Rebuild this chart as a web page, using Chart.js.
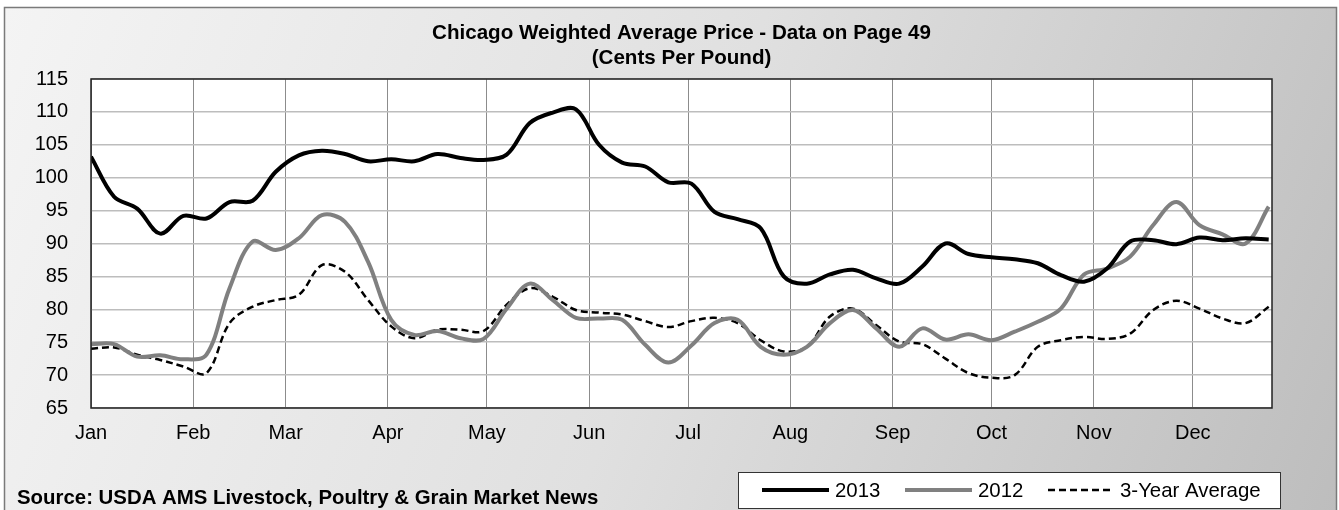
<!DOCTYPE html>
<html>
<head>
<meta charset="utf-8">
<script src="https://cdn.jsdelivr.net/npm/chart.js@4.4.1/dist/chart.umd.min.js"></script>
<style>
  html, body { margin: 0; padding: 0; background: #ffffff; }
  #wrap { width: 1339px; height: 510px; }
</style>
</head>
<body>
<div id="wrap"><canvas id="c" width="1339" height="510"></canvas></div>
<script>
// Week offsets (days since Jan 1) for each weekly observation
const weekDays = [0, 7, 14, 21, 28, 35, 42, 49, 56, 63, 70, 77, 84, 91, 98, 105, 112, 119, 126,
  133, 140, 147, 154, 161, 168, 175, 182, 189, 196, 203, 210, 217, 224, 231, 238, 245, 252,
  259, 266, 273, 280, 287, 294, 301, 308, 315, 322, 329, 336, 343, 350, 357];

// Month boundaries (day of year) and their labels
const monthStarts = [0, 31, 59, 90, 120, 151, 181, 212, 243, 273, 304, 334];
const monthLabels = ['Jan', 'Feb', 'Mar', 'Apr', 'May', 'Jun', 'Jul', 'Aug', 'Sep', 'Oct', 'Nov', 'Dec'];

// Weekly prices, cents per pound
const price2013 = [103.2, 97.1, 95.3, 91.5, 94.2, 93.8, 96.3, 96.5, 100.9, 103.4, 104.1, 103.6,
  102.5, 102.8, 102.5, 103.6, 103.0, 102.7, 103.5, 108.3, 109.9, 110.4, 105.0, 102.3, 101.7,
  99.3, 99.1, 94.8, 93.7, 92.3, 85.0, 83.9, 85.3, 86.0, 84.7, 83.9, 86.5, 90.0, 88.4, 87.9,
  87.6, 87.0, 85.2, 84.2, 86.2, 90.3, 90.5, 89.9, 90.9, 90.5, 90.8, 90.6];

const price2012 = [74.7, 74.7, 72.8, 73.0, 72.4, 73.1, 83.2, 90.3, 89.0, 90.8, 94.3, 93.3,
  87.2, 78.4, 76.1, 76.7, 75.6, 75.5, 80.1, 83.9, 81.4, 78.7, 78.6, 78.4, 74.6, 71.9, 74.5,
  77.9, 78.4, 74.3, 73.1, 74.3, 77.9, 79.9, 77.1, 74.3, 77.1, 75.4, 76.2, 75.3, 76.6, 78.1,
  80.1, 85.3, 86.2, 88.0, 92.8, 96.3, 92.8, 91.4, 90.0, 95.6];

const avg3Year = [74.0, 74.2, 73.1, 72.3, 71.3, 70.3, 77.9, 80.4, 81.4, 82.2, 86.7, 85.7,
  81.4, 77.4, 75.6, 76.9, 76.9, 76.7, 80.7, 83.2, 81.9, 79.9, 79.5, 79.2, 78.2, 77.3, 78.2,
  78.7, 77.9, 75.3, 73.6, 74.3, 78.9, 80.1, 77.6, 75.1, 74.7, 72.5, 70.3, 69.6, 70.0, 74.3,
  75.3, 75.8, 75.5, 76.3, 79.9, 81.3, 80.1, 78.6, 77.9, 80.4];

const titleLines = ['Chicago Weighted Average Price - Data on Page 49', '(Cents Per Pound)'];
const sourceNote = 'Source: USDA AMS Livestock, Poultry & Grain Market News';

const FONT = 'Arial, "Liberation Sans", sans-serif';

function points(values) {
  return values.map((v, i) => ({ x: weekDays[i], y: v }));
}

const series = [
  { label: '2013', data: points(price2013), color: '#000000', width: 4, dash: [] },
  { label: '2012', data: points(price2012), color: '#808080', width: 4, dash: [] },
  { label: '3-Year Average', data: points(avg3Year), color: '#000000', width: 2.5, dash: [7, 4] }
];

// Frame, gradient panel, white plot area, title, source line and boxed legend
const decor = {
  id: 'decor',
  beforeDraw(chart) {
    const { ctx, chartArea: a } = chart;
    ctx.save();
    ctx.fillStyle = '#ffffff';
    ctx.fillRect(0, 0, chart.width, chart.height);
    const g = ctx.createLinearGradient(4, 7, 1336, 520);
    g.addColorStop(0, '#f4f4f4');
    g.addColorStop(0.5, '#e0e0e0');
    g.addColorStop(1, '#bdbdbd');
    ctx.fillStyle = g;
    ctx.fillRect(4, 7, 1332, 510);
    ctx.strokeStyle = '#7a7a7a';
    ctx.lineWidth = 1.5;
    ctx.strokeRect(4.5, 7.5, 1332, 510);
    ctx.fillStyle = '#ffffff';
    ctx.fillRect(a.left, a.top, a.right - a.left, a.bottom - a.top);
    ctx.restore();
  },
  afterDraw(chart) {
    const { ctx, chartArea: a } = chart;
    ctx.save();
    // plot border
    ctx.strokeStyle = '#222222';
    ctx.lineWidth = 1.5;
    ctx.strokeRect(a.left, a.top, a.right - a.left, a.bottom - a.top);

    // title
    const cx = (a.left + a.right) / 2;
    ctx.fillStyle = '#000000';
    ctx.textAlign = 'center';
    ctx.textBaseline = 'middle';
    ctx.font = 'bold 20.6px ' + FONT;
    ctx.fillText(titleLines[0], cx, 33);
    ctx.fillText(titleLines[1], cx, 58);

    // source
    ctx.textAlign = 'left';
    ctx.font = 'bold 20.4px ' + FONT;
    ctx.fillText(sourceNote, 17, 498);

    // legend box
    const bx = 738, by = 472, bw = 542, bh = 36;
    ctx.fillStyle = '#ffffff';
    ctx.fillRect(bx, by, bw, bh);
    ctx.strokeStyle = '#333333';
    ctx.lineWidth = 1;
    ctx.strokeRect(bx + 0.5, by + 0.5, bw, bh);
    const ly = by + bh / 2;
    const items = [
      { s: series[0], x0: 762, x1: 829, tx: 835 },
      { s: series[1], x0: 905, x1: 972, tx: 978 },
      { s: series[2], x0: 1048, x1: 1113, tx: 1120 }
    ];
    ctx.font = '20.4px ' + FONT;
    items.forEach(it => {
      ctx.beginPath();
      ctx.setLineDash(it.s.dash);
      ctx.strokeStyle = it.s.color;
      ctx.lineWidth = it.s.width;
      ctx.moveTo(it.x0, ly);
      ctx.lineTo(it.x1, ly);
      ctx.stroke();
      ctx.setLineDash([]);
      ctx.fillStyle = '#000000';
      ctx.fillText(it.s.label, it.tx, ly + 1);
    });
    ctx.restore();
  }
};

new Chart(document.getElementById('c'), {
  type: 'line',
  data: {
    datasets: series.map(s => ({
      label: s.label,
      data: s.data,
      borderColor: s.color,
      borderWidth: s.width,
      borderDash: s.dash,
      pointRadius: 0,
      fill: false,
      tension: 0.35
    }))
  },
  options: {
    responsive: false,
    animation: false,
    layout: { padding: { top: 79, right: 67, left: 0, bottom: 0 } },
    plugins: {
      legend: { display: false },
      title: { display: false },
      tooltip: { enabled: false }
    },
    scales: {
      x: {
        type: 'linear',
        min: 0,
        max: 358,
        afterBuildTicks: s => { s.ticks = monthStarts.map(v => ({ value: v })); },
        afterFit: s => { s.height = 102; },
        ticks: {
          autoSkip: false,
          maxRotation: 0,
          padding: 13,
          color: '#000000',
          font: { family: FONT, size: 20 },
          callback: v => monthLabels[monthStarts.indexOf(v)]
        },
        grid: { color: '#8c8c8c', lineWidth: 1, drawTicks: false },
        border: { display: false }
      },
      y: {
        min: 65,
        max: 115,
        afterFit: s => { s.width = 91; },
        ticks: {
          stepSize: 5,
          padding: 23,
          color: '#000000',
          font: { family: FONT, size: 20 }
        },
        grid: { color: '#bdbdbd', lineWidth: 1.5, drawTicks: false },
        border: { display: false }
      }
    }
  },
  plugins: [decor]
});
</script>
</body>
</html>
